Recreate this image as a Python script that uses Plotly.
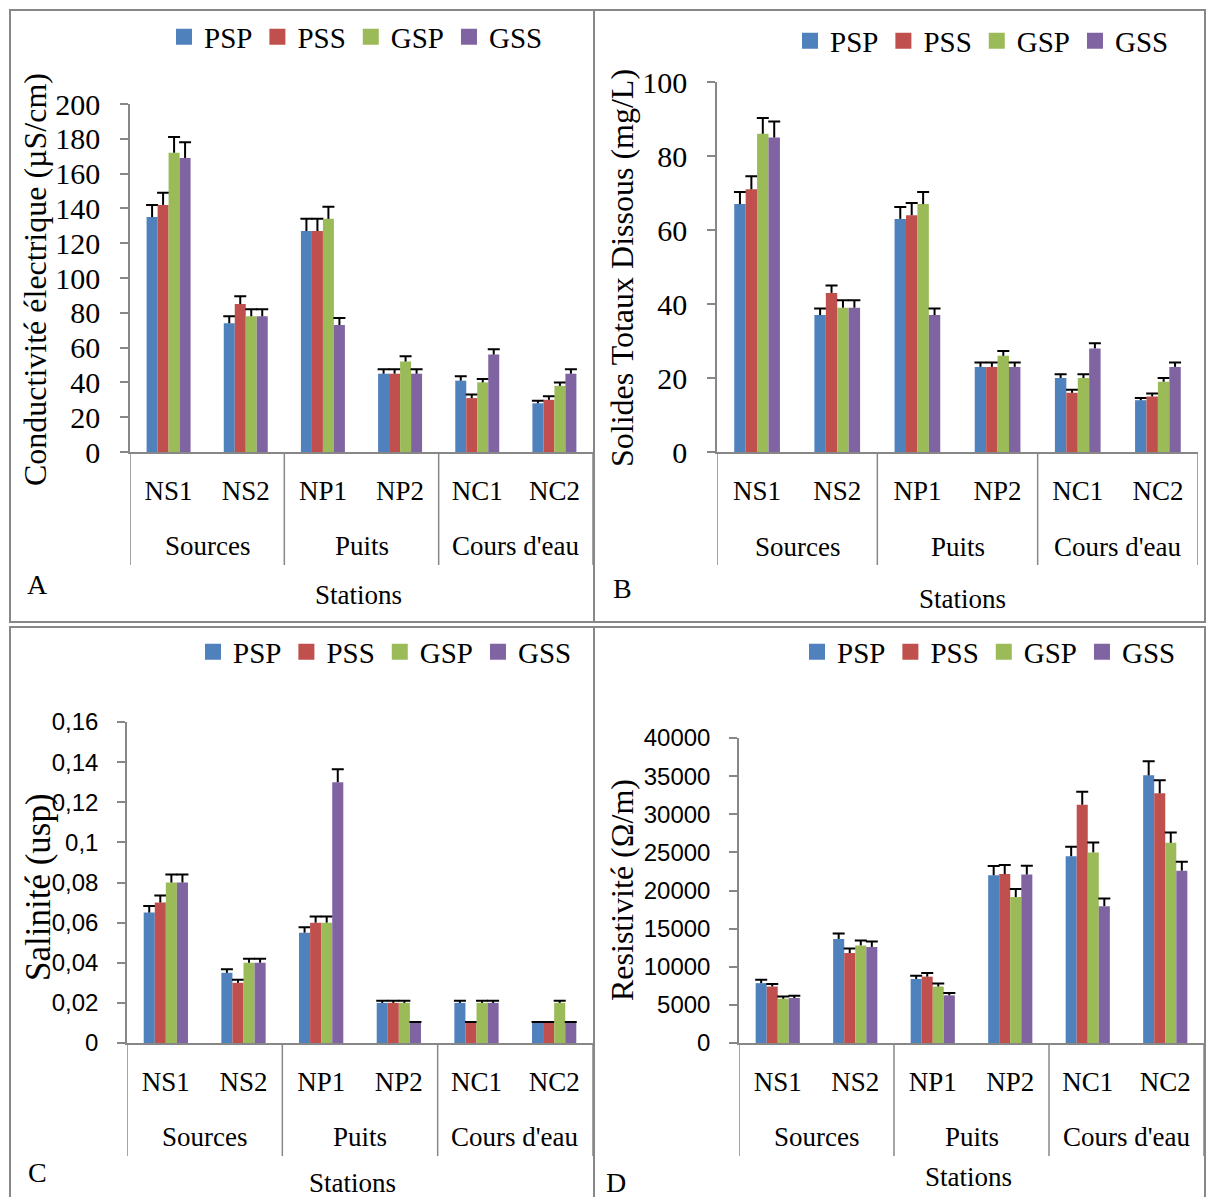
import plotly.graph_objects as go

# ---------------- data ----------------
groups = ["Sources", "Sources", "Puits", "Puits", "Cours d'eau", "Cours d'eau"]
stations = ["NS1", "NS2", "NP1", "NP2", "NC1", "NC2"]
series = ["PSP", "PSS", "GSP", "GSS"]
colors = ["#4F81BD", "#C0504D", "#9BBB59", "#8064A2"]

# A - Conductivité électrique (µS/cm)
ce_psp = [135, 74, 127, 45, 41, 28]
ce_pss = [142, 85, 127, 45, 31, 30]
ce_gsp = [172, 78, 134, 52, 40, 38]
ce_gss = [169, 78, 73, 45, 56, 45]
ce_err_psp = [7, 4, 7, 2.5, 2.5, 1.5]
ce_err_pss = [7, 4.5, 7, 2.5, 2, 2]
ce_err_gsp = [9, 4, 7, 3, 2, 2]
ce_err_gss = [9, 4, 4, 2.5, 3, 2.5]

# B - Solides Totaux Dissous (mg/L)
tds_psp = [67, 37, 63, 23, 20, 14]
tds_pss = [71, 43, 64, 23, 16, 15]
tds_gsp = [86, 39, 67, 26, 20, 19]
tds_gss = [85, 39, 37, 23, 28, 23]
tds_err_psp = [3.3, 1.8, 3.2, 1.2, 1.0, 0.6]
tds_err_pss = [3.5, 2.0, 3.3, 1.2, 0.8, 0.8]
tds_err_gsp = [4.3, 2.0, 3.3, 1.3, 1.0, 1.0]
tds_err_gss = [4.3, 2.0, 1.8, 1.2, 1.4, 1.2]

# C - Salinité (usp)
sal_psp = [0.065, 0.035, 0.055, 0.02, 0.02, 0.01]
sal_pss = [0.07, 0.03, 0.06, 0.02, 0.01, 0.01]
sal_gsp = [0.08, 0.04, 0.06, 0.02, 0.02, 0.02]
sal_gss = [0.08, 0.04, 0.13, 0.01, 0.02, 0.01]
sal_err_psp = [0.0033, 0.0018, 0.0027, 0.001, 0.001, 0.0005]
sal_err_pss = [0.0035, 0.0015, 0.003, 0.001, 0.0005, 0.0005]
sal_err_gsp = [0.004, 0.002, 0.003, 0.001, 0.001, 0.001]
sal_err_gss = [0.004, 0.002, 0.0065, 0.0005, 0.001, 0.0005]
sal_tickvals = [0, 0.02, 0.04, 0.06, 0.08, 0.1, 0.12, 0.14, 0.16]
sal_ticktext = ["0", "0,02", "0,04", "0,06", "0,08", "0,1", "0,12", "0,14", "0,16"]

# D - Resistivité (Ω/m)
res_psp = [7850, 13650, 8400, 22000, 24500, 35100]
res_pss = [7400, 11800, 8700, 22150, 31250, 32750]
res_gsp = [5800, 12800, 7400, 19150, 25000, 26250]
res_gss = [5900, 12600, 6250, 22100, 17950, 22600]
res_err_psp = [440, 700, 430, 1200, 1250, 1850]
res_err_pss = [350, 600, 480, 1200, 1700, 1700]
res_err_gsp = [300, 650, 400, 1050, 1300, 1350]
res_err_gss = [300, 700, 300, 1150, 1000, 1180]

# ---------------- layout helpers ----------------
W, H = 1206, 1197
def fx(px):
    return px / W
def fy(py):
    return 1 - py / H

SERIF = "Liberation Serif"
SANS = "Liberation Sans"
GRAY = "#878787"

# group label positions / dividers derived from the category lists
group_names = []
for g in groups:
    if g not in group_names:
        group_names.append(g)
group_centers = [sum(i for i, g in enumerate(groups) if g == n) /
                 groups.count(n) for n in group_names]
dividers = [-0.5] + [i + 0.5 for i in range(len(groups) - 1)
                     if groups[i] != groups[i + 1]] + [len(groups) - 0.5]

panels = [
    dict(key="", vals=[ce_psp, ce_pss, ce_gsp, ce_gss],
         errs=[ce_err_psp, ce_err_pss, ce_err_gsp, ce_err_gss],
         xdom=(130, 593), ydom=(452, 104), yrange=[0, 200], dtick=20,
         tickfont=dict(family=SERIF, size=30, color="black"),
         title="Conductivité électrique (µS/cm)", tsize=32, tpos=(35, 280),
         letter="A", lpos=(37, 584), spos=(358, 595),
         legpos=(356, 37), grp_y=546, div_y=565),
    dict(key="2", vals=[tds_psp, tds_pss, tds_gsp, tds_gss],
         errs=[tds_err_psp, tds_err_pss, tds_err_gsp, tds_err_gss],
         xdom=(717, 1198), ydom=(452, 82), yrange=[0, 100], dtick=20,
         tickfont=dict(family=SERIF, size=30, color="black"),
         title="Solides Totaux Dissous (mg/L)", tsize=32, tpos=(622, 268),
         letter="B", lpos=(622, 588), spos=(962, 599),
         legpos=(982, 41), grp_y=547, div_y=565),
    dict(key="3", vals=[sal_psp, sal_pss, sal_gsp, sal_gss],
         errs=[sal_err_psp, sal_err_pss, sal_err_gsp, sal_err_gss],
         xdom=(127, 593), ydom=(1043, 722), yrange=[0, 0.16], dtick=None,
         tickvals=sal_tickvals, ticktext=sal_ticktext,
         tickfont=dict(family=SANS, size=24, color="black"),
         title="Salinité (usp)", tsize=35, tpos=(38, 887),
         letter="C", lpos=(37, 1172), spos=(352, 1183),
         legpos=(385, 652), grp_y=1137, div_y=1156),
    dict(key="4", vals=[res_psp, res_pss, res_gsp, res_gss],
         errs=[res_err_psp, res_err_pss, res_err_gsp, res_err_gss],
         xdom=(739, 1204), ydom=(1043, 738), yrange=[0, 40000], dtick=5000,
         tickfont=dict(family=SANS, size=24, color="black"),
         title="Resistivité (Ω/m)", tsize=32, tpos=(622, 890),
         letter="D", lpos=(616, 1182), spos=(969, 1177),
         legpos=(989, 652), grp_y=1137, div_y=1156),
]

fig = go.Figure()
annotations = []
shapes = []
layout_extra = {}

for p in panels:
    k = p["key"]
    xa = "x" + k
    ya = "y" + k
    leg = "legend" + k
    for name, col, v, e in zip(series, colors, p["vals"], p["errs"]):
        # bar with the error stem (upper direction only)
        fig.add_trace(go.Bar(
            x=stations, y=v, name=name, offsetgroup=name,
            marker=dict(color=col, line=dict(width=0)),
            error_y=dict(type="data", array=e, arrayminus=[0] * len(e),
                         symmetric=False, color="black", thickness=2, width=0),
            xaxis=xa, yaxis=ya, showlegend=False,
        ))
        # transparent segment from value to value+error, carrying only the cap
        fig.add_trace(go.Bar(
            x=stations, y=e, base=v, name=name, offsetgroup=name,
            marker=dict(color="rgba(0,0,0,0)", line=dict(width=0)),
            error_y=dict(type="data", array=[0] * len(e), symmetric=True,
                         color="black", thickness=2, width=6),
            xaxis=xa, yaxis=ya, showlegend=False, hoverinfo="skip",
        ))
    for name, col in zip(series, colors):
        fig.add_trace(go.Scatter(
            x=[stations[0]], y=[None], name=name, mode="markers",
            marker=dict(color=col, symbol="square", size=17),
            xaxis=xa, yaxis=ya, legend=leg, showlegend=True,
        ))

    xname = "xaxis" + k
    yname = "yaxis" + k
    layout_extra[xname] = dict(
        domain=[fx(p["xdom"][0]), fx(p["xdom"][1])], anchor=ya,
        type="category", range=[-0.5, 5.5],
        showline=True, linecolor=GRAY, linewidth=1.5,
        ticks="", ticklabelstandoff=14,
        tickfont=dict(family=SERIF, size=27, color="black"),
        showgrid=False, zeroline=False,
    )
    yax = dict(
        domain=[fy(p["ydom"][0]), fy(p["ydom"][1])], anchor=xa,
        range=p["yrange"], showline=True, linecolor=GRAY, linewidth=1.5,
        ticks="outside", ticklen=8, tickwidth=1.5, tickcolor=GRAY,
        showgrid=False, zeroline=False, tickfont=p["tickfont"],
        ticklabelstandoff=14,
    )
    if p["dtick"] is not None:
        yax["dtick"] = p["dtick"]
        yax["tick0"] = 0
        yax["tickformat"] = "d"
    else:
        yax["tickmode"] = "array"
        yax["tickvals"] = p["tickvals"]
        yax["ticktext"] = p["ticktext"]
    layout_extra[yname] = yax

    layout_extra[leg] = dict(
        orientation="h", x=fx(p["legpos"][0]), y=fy(p["legpos"][1]),
        xanchor="center", yanchor="middle", bgcolor="rgba(0,0,0,0)",
        font=dict(family=SERIF, size=29, color="black"),
        itemsizing="trace", tracegroupgap=0, itemwidth=30,
    )

    # group (second level) category labels
    for gname, gc in zip(group_names, group_centers):
        annotations.append(dict(
            text=gname, x=gc, y=fy(p["grp_y"]), xref=xa, yref="paper",
            showarrow=False, xanchor="center", yanchor="middle",
            font=dict(family=SERIF, size=27, color="black")))
    # group dividers
    for d in dividers:
        shapes.append(dict(type="line", xref=xa, yref="paper",
                           x0=d, x1=d, y0=fy(p["div_y"]), y1=fy(p["ydom"][0]),
                           line=dict(color=GRAY, width=1.5)))

    annotations.append(dict(
        text=p["title"], x=fx(p["tpos"][0]), y=fy(p["tpos"][1]),
        xref="paper", yref="paper", showarrow=False, textangle=-90,
        xanchor="center", yanchor="middle",
        font=dict(family=SERIF, size=p["tsize"], color="black")))
    annotations.append(dict(
        text=p["letter"], x=fx(p["lpos"][0]), y=fy(p["lpos"][1]),
        xref="paper", yref="paper", showarrow=False,
        xanchor="center", yanchor="middle",
        font=dict(family=SERIF, size=28, color="black")))
    annotations.append(dict(
        text="Stations", x=fx(p["spos"][0]), y=fy(p["spos"][1]),
        xref="paper", yref="paper", showarrow=False,
        xanchor="center", yanchor="middle",
        font=dict(family=SERIF, size=27, color="black")))

# panel borders
for (x0, y0, x1, y1) in [(10, 10, 594, 622), (594, 10, 1205, 622),
                         (10, 627, 594, 1200), (594, 627, 1205, 1200)]:
    shapes.append(dict(type="rect", xref="paper", yref="paper",
                       x0=fx(x0), x1=fx(x1), y0=fy(y1), y1=fy(y0),
                       line=dict(color=GRAY, width=2), fillcolor="rgba(0,0,0,0)"))

fig.update_layout(
    width=W, height=H, autosize=False,
    margin=dict(l=0, r=0, t=0, b=0, autoexpand=False),
    paper_bgcolor="white", plot_bgcolor="white",
    barmode="group", bargap=0.43, bargroupgap=0,
    annotations=annotations, shapes=shapes,
    font=dict(family=SERIF, color="black"),
    **layout_extra,
)

fig.write_html("out.html")
